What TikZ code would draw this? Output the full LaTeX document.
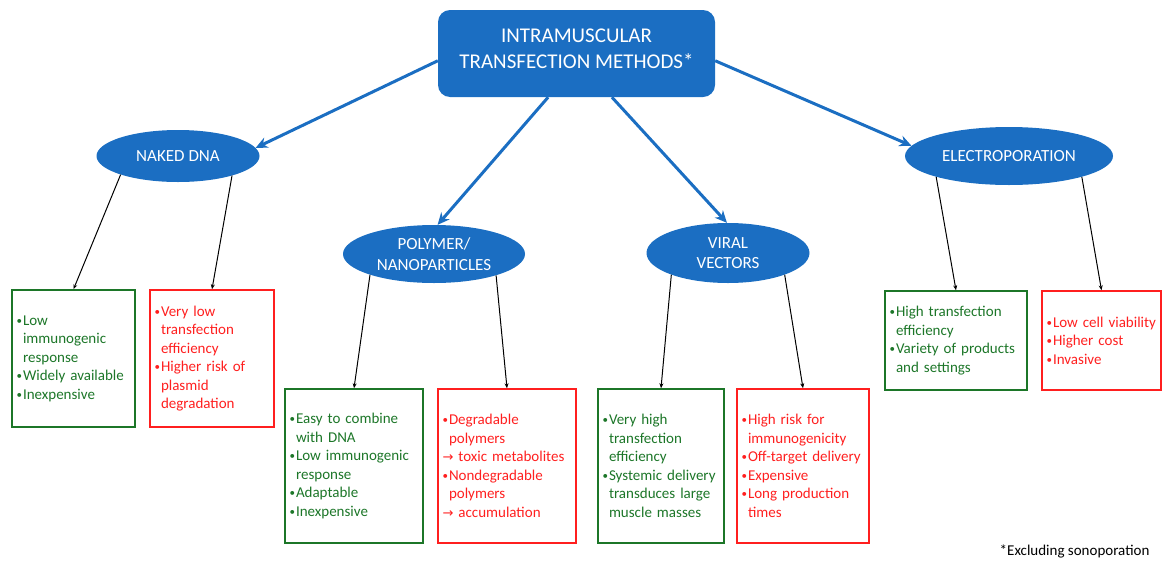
\documentclass[tikz,border=0pt]{standalone}
\usepackage{fontspec}
\setmainfont{Carlito}
\newfontfamily\arrowfont{DejaVu Sans}
\usepackage{tikz}
\usetikzlibrary{shapes, arrows.meta, positioning}
\definecolor{MethodBlue}{HTML}{1B6EC2}
\definecolor{ProGreen}{HTML}{1C7628}
\definecolor{ConRed}{HTML}{FF1F1F}
\newcommand{\bul}{\makebox[6.5pt][l]{\raisebox{1pt}{\fontsize{11}{11}\selectfont •}}}
\newcommand{\ind}{\hspace*{6.5pt}}
\newcommand{\leadsarrow}{{\arrowfont\fontsize{13}{13}\selectfont →}}

\begin{document}
\begin{tikzpicture}[x=1pt, y=-1pt,
    method/.style={ellipse, fill=MethodBlue, text=white, inner sep=0pt, align=center, font=\fontsize{17}{20.5}\selectfont},
    pro/.style={draw=ProGreen, text=ProGreen, line width=1.5pt, inner xsep=4.5pt, inner ysep=0pt, align=left, font=\fontsize{15}{18.5}\selectfont},
    con/.style={pro, draw=ConRed, text=ConRed},
    link/.style={draw=MethodBlue, line width=3pt, -{Stealth[length=12pt, width=11pt]}},
    sublink/.style={line width=1pt, -{Stealth[length=5pt, width=4pt]}}]
  \useasboundingbox (0,0) rectangle (1162,560);

  \node[fill=MethodBlue, rounded corners=12pt, text=white, minimum width=277pt, minimum height=87pt, align=center, font=\fontsize{21}{26}\selectfont] (title) at (576.5,53.5) {INTRAMUSCULAR\\TRANSFECTION METHODS*\rule[-10pt]{0pt}{10pt}};

  \node[method, minimum width=163pt, minimum height=52pt] (naked) at (178,156) {NAKED DNA};
  \node[method, minimum width=182pt, minimum height=58pt] (polymer) at (434,254) {POLYMER/\\NANOPARTICLES};
  \node[method, minimum width=163pt, minimum height=60pt] (viral) at (728,253) {VIRAL\\VECTORS};
  \node[method, minimum width=208pt, minimum height=58pt] (electro) at (1009,156) {ELECTROPORATION};

  \node[pro, minimum width=123pt, minimum height=137pt, text width=114pt] (nakedpro) at (73.5,358.5) {\bul Low\\\ind immunogenic\\\ind response\\\bul Widely available\\\bul Inexpensive};
  \node[con, minimum width=124pt, minimum height=137pt, text width=115pt] (nakedcon) at (212,358.5) {\bul Very low\\\ind transfection\\\ind efficiency\\\bul Higher risk of\\\ind plasmid\\\ind degradation};
  \node[pro, minimum width=138pt, minimum height=154pt, text width=129pt] (polypro) at (354,466) {\bul Easy to combine\\\ind with DNA\\\bul Low immunogenic\\\ind response\\\bul Adaptable\\\bul Inexpensive};
  \node[con, minimum width=138pt, minimum height=154pt, text width=129pt] (polycon) at (507,466) {\bul Degradable\\\ind polymers\\\leadsarrow\ toxic metabolites\\\bul Nondegradable\\\ind polymers\\\leadsarrow\ accumulation};
  \node[pro, minimum width=126pt, minimum height=154pt, text width=117pt] (viralpro) at (661,466) {\bul Very high\\\ind transfection\\\ind efficiency\\\bul Systemic delivery\\\ind transduces large\\\ind muscle masses};
  \node[con, minimum width=132pt, minimum height=154pt, text width=123pt] (viralcon) at (803,466) {\bul High risk for\\\ind immunogenicity\\\bul Off-target delivery\\\bul Expensive\\\bul Long production\\\ind times};
  \node[pro, minimum width=142pt, minimum height=99pt, text width=133pt] (electropro) at (956,340.5) {\bul High transfection\\\ind efficiency\\\bul Variety of products\\\ind and settings};
  \node[con, minimum width=119pt, minimum height=99pt, text width=110pt] (electrocon) at (1101.5,340.5) {\bul Low cell viability\\\bul Higher cost\\\bul Invasive};

  \node[anchor=base east, font=\fontsize{15}{18}\selectfont] (note) at (1153,555) {*Excluding sonoporation};

  \draw[link] (title.183) -- (naked.6);
  \draw[link] (title.237) -- (polymer.83);
  \draw[link] (title.309) -- (viral.92);
  \draw[link] (title.357) -- (electro.174);

  \draw[sublink] (naked.198) -- (nakedpro.north);
  \draw[sublink] (naked.340) -- (nakedcon.north);
  \draw[sublink] (polymer.198) -- (polypro.north);
  \draw[sublink] (polymer.341) -- (polycon.north);
  \draw[sublink] (viral.201) -- (viralpro.north);
  \draw[sublink] (viral.339) -- (viralcon.north);
  \draw[sublink] (electro.196) -- (electropro.north);
  \draw[sublink] (electro.344) -- (electrocon.north);
\end{tikzpicture}
\end{document}
